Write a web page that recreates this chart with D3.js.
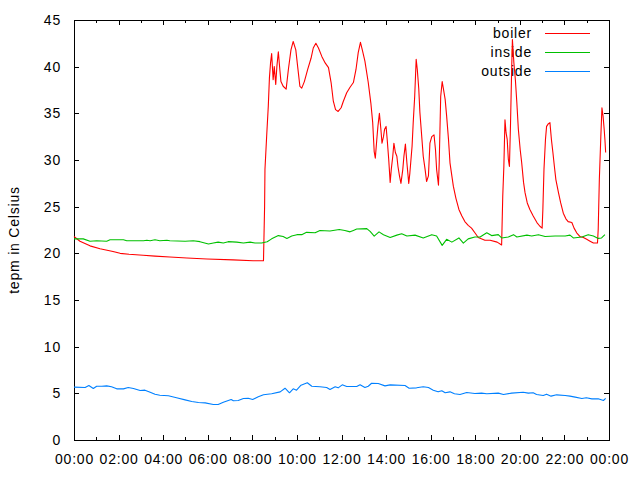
<!DOCTYPE html>
<html>
<head>
<meta charset="utf-8">
<script src="https://cdn.jsdelivr.net/npm/d3@7"></script>
<style>
  html, body { margin: 0; padding: 0; background: #fff; }
  svg { display: block; }
  text { font-family: "Liberation Sans", Arial, sans-serif; font-size: 14px; fill: #000; letter-spacing: 0.8px; }
</style>
</head>
<body>
<svg id="chart" width="640" height="480"></svg>
<script>
// ---- data (minutes after midnight, temperature in °C) ----
const seriesNames = ["boiler", "inside", "outside"];
const seriesColors = ["#ff0000", "#00c000", "#0080ff"];
const yTicks = [0, 5, 10, 15, 20, 25, 30, 35, 40, 45];
const xTickLabels = ["00:00","02:00","04:00","06:00","08:00","10:00","12:00","14:00","16:00","18:00","20:00","22:00","00:00"];

const boilerTime = [0,16,43,70,105,124,148,186,218,258,304,358,428,482,510,513,514,519,523,526,529,532,536,539,543,546,550,554,557,563,571,577,584,590,597,602,608,613,620,629,638,644,651,658,667,676,685,692,698,704,711,719,725,734,743,752,759,765,771,776,783,792,799,804,808,811,815,818,822,826,829,833,836,840,843,847,851,854,858,861,865,869,872,876,880,885,888,892,896,901,904,910,913,917,921,924,928,931,936,940,945,949,954,958,963,969,973,976,981,983,987,991,994,999,1003,1008,1012,1017,1021,1028,1036,1044,1052,1061,1070,1079,1088,1106,1120,1139,1151,1154,1157,1160,1163,1166,1169,1172,1175,1178,1180,1184,1188,1192,1196,1201,1205,1210,1214,1220,1227,1236,1246,1254,1260,1262,1265,1269,1272,1277,1281,1285,1289,1293,1297,1304,1310,1317,1324,1330,1340,1346,1353,1362,1371,1380,1389,1398,1409,1411,1414,1418,1421,1424,1427,1429,1431];
const boilerValues = [21.8,21.3,20.8,20.5,20.2,20.0,19.9,19.8,19.7,19.6,19.5,19.4,19.3,19.2,19.2,25.0,29.0,32.9,35.8,38.8,40.4,41.4,38.6,40.0,38.1,40.0,41.6,39.7,38.4,37.9,37.6,39.7,41.8,42.7,41.8,40.0,37.9,37.7,38.4,39.7,40.9,42.0,42.5,42.0,41.1,40.4,39.9,38.3,36.3,35.4,35.2,35.6,36.3,37.2,37.8,38.3,39.7,41.5,42.6,41.8,40.6,38.3,36.1,34.0,30.9,30.2,32.2,33.6,35.0,33.3,31.8,32.5,33.3,33.6,32.2,30.1,27.6,29.0,30.4,31.8,30.8,30.4,29.3,28.3,27.5,29.0,30.4,31.7,29.7,27.5,28.6,31.5,34.0,36.8,40.8,39.7,37.6,35.1,32.5,30.4,29.0,27.7,28.3,31.8,32.5,32.7,31.1,29.0,27.3,29.7,36.8,38.4,37.7,36.5,34.7,32.2,29.7,28.3,27.2,25.9,24.7,24.0,23.4,23.0,22.7,22.2,21.7,21.4,21.4,21.2,20.9,26.1,29.3,34.3,32.9,32.2,30.1,29.3,34.0,39.7,42.9,40.4,38.6,36.1,33.3,31.1,29.7,27.6,26.5,25.4,24.7,24.0,23.3,22.9,22.7,24.7,29.0,32.2,33.6,33.9,34.0,32.2,30.8,29.3,27.9,26.5,25.4,24.3,23.7,23.4,23.3,22.7,22.2,21.8,21.7,21.5,21.3,21.1,21.1,22.6,27.9,32.5,35.6,34.7,33.3,32.2,30.8];

const insideTime = [0,25,43,61,88,97,133,142,187,196,205,218,231,250,258,299,321,339,362,375,388,402,415,438,456,474,487,505,520,532,550,563,573,586,600,613,626,649,662,689,714,729,743,752,761,788,797,808,821,833,851,869,882,896,918,940,963,976,991,1003,1017,1036,1048,1061,1079,1093,1111,1124,1142,1151,1169,1183,1192,1219,1232,1250,1268,1295,1322,1335,1344,1367,1384,1398,1411,1420,1429];
const insideValues = [21.55,21.55,21.3,21.35,21.3,21.45,21.45,21.35,21.35,21.4,21.35,21.45,21.35,21.4,21.35,21.3,21.35,21.25,21.0,21.1,21.2,21.1,21.25,21.2,21.1,21.2,21.1,21.1,21.25,21.55,21.9,21.8,21.6,21.85,22.0,22.0,22.25,22.2,22.45,22.4,22.55,22.45,22.3,22.45,22.6,22.65,22.35,21.85,22.3,22.0,21.7,21.95,22.1,21.85,21.95,21.65,22.0,21.85,20.85,21.5,21.2,21.65,21.1,21.55,21.75,21.75,22.2,21.9,22.0,21.65,21.75,22.0,21.75,21.95,21.85,22.0,21.8,21.85,21.85,21.95,21.65,21.75,22.0,21.85,21.6,21.65,22.0];

const outsideTime = [0,30,40,52,61,75,88,101,115,133,146,160,178,191,205,218,231,254,276,299,317,335,353,375,388,402,423,429,442,456,469,481,496,510,532,555,568,580,590,599,611,628,640,662,680,689,703,711,722,734,761,770,783,792,801,819,837,851,891,902,922,940,954,967,980,990,999,1012,1024,1039,1057,1079,1097,1111,1142,1156,1178,1209,1223,1236,1245,1263,1272,1284,1299,1322,1335,1349,1367,1379,1394,1411,1425,1431];
const outsideValues = [5.66,5.62,5.84,5.52,5.76,5.76,5.8,5.7,5.48,5.48,5.62,5.52,5.3,5.34,5.12,4.9,4.8,4.74,4.52,4.3,4.12,4.02,3.98,3.8,3.8,4.05,4.34,4.2,4.23,4.45,4.48,4.34,4.63,4.84,4.95,5.16,5.55,5.06,5.48,5.34,5.87,6.13,5.76,5.7,5.62,5.41,5.7,5.59,5.91,5.73,5.73,5.91,5.62,5.76,6.08,6.05,5.8,5.91,5.84,5.55,5.59,5.7,5.62,5.34,5.16,5.27,5.06,5.16,4.95,4.88,5.09,4.98,5.02,4.95,5.02,4.88,5.02,5.12,5.02,5.06,4.88,4.77,4.91,4.7,4.84,4.77,4.7,4.59,4.45,4.52,4.41,4.41,4.23,4.45];

const yLabel = "tepm in Celsius";

// ---- layout ----
const W = 640, H = 480;
const plot = { left: 74, right: 609, top: 20, bottom: 440 };

const svg = d3.select("#chart");
svg.append("rect").attr("width", W).attr("height", H).attr("fill", "#fff");

const x = d3.scaleLinear().domain([0, 1440]).range([plot.left, plot.right]);
const y = d3.scaleLinear().domain([0, 45]).range([plot.bottom, plot.top]);

const majorTicks = xTickLabels.map((d, i) => i * 120);
const minorTicks = d3.range(60, 1440, 120);

function styleAxis(g) {
  g.select(".domain").remove();
  g.selectAll(".tick line").attr("stroke", "#000").attr("shape-rendering", "crispEdges");
  g.selectAll(".tick text").attr("font-family", null).attr("font-size", null).attr("fill", "#000");
}

// bottom axis (major)
svg.append("g").attr("transform", `translate(0,${plot.bottom})`)
  .call(d3.axisBottom(x).tickValues(majorTicks).tickFormat((d, i) => xTickLabels[i])
    .tickSizeInner(-5).tickSizeOuter(0).tickPadding(14.5))
  .call(styleAxis);
// bottom minor
svg.append("g").attr("transform", `translate(0,${plot.bottom})`)
  .call(d3.axisBottom(x).tickValues(minorTicks).tickFormat("").tickSizeInner(-3).tickSizeOuter(0))
  .call(styleAxis);
// top mirror ticks
svg.append("g").attr("transform", `translate(0,${plot.top})`)
  .call(d3.axisTop(x).tickValues(majorTicks).tickFormat("").tickSizeInner(-5).tickSizeOuter(0))
  .call(styleAxis);
svg.append("g").attr("transform", `translate(0,${plot.top})`)
  .call(d3.axisTop(x).tickValues(minorTicks).tickFormat("").tickSizeInner(-3).tickSizeOuter(0))
  .call(styleAxis);
// left axis
svg.append("g").attr("transform", `translate(${plot.left},0)`)
  .call(d3.axisLeft(y).tickValues(yTicks).tickFormat(d3.format("d"))
    .tickSizeInner(-5).tickSizeOuter(0).tickPadding(13))
  .call(styleAxis);
// right mirror
svg.append("g").attr("transform", `translate(${plot.right},0)`)
  .call(d3.axisRight(y).tickValues(yTicks).tickFormat("").tickSizeInner(-5).tickSizeOuter(0))
  .call(styleAxis);

// frame
svg.append("rect")
  .attr("x", plot.left + 0.5).attr("y", plot.top + 0.5)
  .attr("width", plot.right - plot.left).attr("height", plot.bottom - plot.top)
  .attr("fill", "none").attr("stroke", "#000").attr("stroke-width", 1)
  .attr("shape-rendering", "crispEdges");

// y label
svg.append("text")
  .attr("transform", `translate(19,${(plot.top + plot.bottom) / 2 + 10}) rotate(-90)`)
  .attr("text-anchor", "middle")
  .text(yLabel);

// legend
const legendRows = [33, 52, 71];
seriesNames.forEach((name, i) => {
  svg.append("text").attr("x", 532).attr("y", legendRows[i] + 5)
    .attr("text-anchor", "end").text(name);
  svg.append("line").attr("x1", 545).attr("x2", 590)
    .attr("y1", legendRows[i] + 0.5).attr("y2", legendRows[i] + 0.5)
    .attr("stroke", seriesColors[i]).attr("stroke-width", 1);
});

// series
const line = d3.line().x(d => x(d[0])).y(d => y(d[1]));
const allSeries = [
  d3.zip(boilerTime, boilerValues),
  d3.zip(insideTime, insideValues),
  d3.zip(outsideTime, outsideValues)
];
allSeries.forEach((data, i) => {
  svg.append("path").datum(data)
    .attr("d", line)
    .attr("fill", "none")
    .attr("stroke", seriesColors[i])
    .attr("stroke-width", 1.1)
    .attr("stroke-linejoin", "round");
});
</script>
</body>
</html>
